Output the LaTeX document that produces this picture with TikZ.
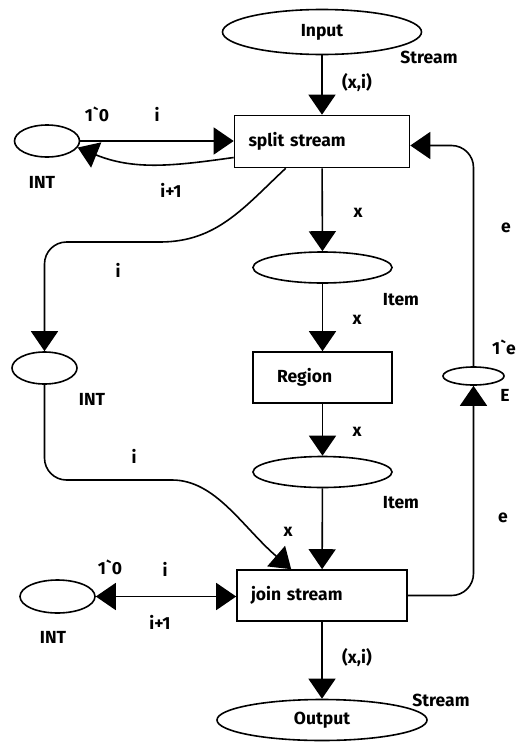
\documentclass[tikz,border=0pt]{standalone}
\usepackage{fontspec}
\setmainfont{Fira Sans}
\usetikzlibrary{shapes.geometric,arrows.meta}

\begin{document}
\begin{tikzpicture}[x=1pt,y=-1pt,
	every node/.style={font=\fontsize{17.5}{20}\selectfont\bfseries},
	place/.style={draw, ellipse, line width=1.6pt, inner sep=0pt},
	trans/.style={draw, rectangle, line width=1.6pt, minimum height=52pt, align=left, inner xsep=14pt},
	arc/.style={line width=1.6pt, -{Triangle[length=20pt,width=27pt]}},
	biarc/.style={line width=1.6pt, {Triangle[length=20pt,width=27pt]}-{Triangle[length=20pt,width=27pt]}}]
		\useasboundingbox (0,0) rectangle (522,742) ;

		\draw (322,32) node[place, minimum width=199pt, minimum height=45pt] (input) {Input} ;
		\draw (322,141.5) node[trans, text width=147pt] (split) {split stream} ;
		\draw (47,141) node[place, minimum width=65pt, minimum height=32pt] (int1) {} ;
		\draw (44.5,368) node[place, minimum width=65pt, minimum height=32pt] (int2) {} ;
		\draw (322.5,267.5) node[place, minimum width=139pt, minimum height=31pt] (item1) {} ;
		\draw (322.5,377.5) node[trans, text width=91pt, inner xsep=24pt, minimum height=51pt] (region) {Region} ;
		\draw (322.5,472) node[place, minimum width=139pt, minimum height=31pt] (item2) {} ;
		\draw (322,595.5) node[trans, text width=142pt, minimum height=51pt] (join) {join stream} ;
		\draw (57.5,596.5) node[place, minimum width=75pt, minimum height=33pt] (int3) {} ;
		\draw (322,720) node[place, minimum width=210pt, minimum height=41pt] (output) {Output} ;
		\draw (473.5,376) node[place, minimum width=61pt, minimum height=18pt] (E) {} ;

		\draw[arc] (input) -- (split) ;
		\draw[arc] (int1.east) -- (int1.east -| split.west) ;
		\draw[arc] ([yshift=-16pt]split.west) to[out=188,in=-22] (int1.-12) ;
		\draw[arc] ([xshift=52pt]split.south west) to[out=223,in=0] (160,242) [rounded corners=22pt] -- (44.5,242) -- (int2) ;
		\draw[arc] (split) -- (item1) ;
		\draw[arc] (item1) -- (region) ;
		\draw[arc] (region) -- (item2) ;
		\draw[arc] (item2) -- (join) ;
		\draw[arc] (int2) [rounded corners=22pt] -- (44.5,480) -- (150,480) to[out=0,in=139] ([xshift=55pt]join.north west) ;
		\draw[biarc] (int3.east) -- (int3.east -| join.west) ;
		\draw[arc] (join) -- (output) ;
		\draw[arc, rounded corners=22pt] (join.east) -| (E) ;
		\draw[arc, rounded corners=22pt] (E) |- ([yshift=-4pt]split.east) ;

		\draw (429,57) node (sIn) {Stream} ;
		\draw (357,83) node (xiIn) {(x,i)} ;
		\draw (97,114) node (m1) {1\textasciigrave 0} ;
		\draw (157,114) node (i1) {i} ;
		\draw (42,182) node (t1) {INT} ;
		\draw (171,190) node (ip1) {i+1} ;
		\draw (358,213) node (x1) {x} ;
		\draw (506,228) node (e1) {e} ;
		\draw (118,270) node (i2) {i} ;
		\draw (401,300) node (it1) {Item} ;
		\draw (357,320) node (x2) {x} ;
		\draw (504,347) node (me) {1\textasciigrave e} ;
		\draw (92,399) node (t2) {INT} ;
		\draw (505,395) node (tE) {E} ;
		\draw (357,432) node (x3) {x} ;
		\draw (134,456) node (i3) {i} ;
		\draw (401,503) node (it2) {Item} ;
		\draw (503,518) node (e2) {e} ;
		\draw (288,532) node (x4) {x} ;
		\draw (110,567) node (m3) {1\textasciigrave 0} ;
		\draw (165,569) node (i4) {i} ;
		\draw (160,622) node (ip3) {i+1} ;
		\draw (53,637) node (t3) {INT} ;
		\draw (357,658) node (xiOut) {(x,i)} ;
		\draw (441,700) node (sOut) {Stream} ;
	\end{tikzpicture}
\end{document}
